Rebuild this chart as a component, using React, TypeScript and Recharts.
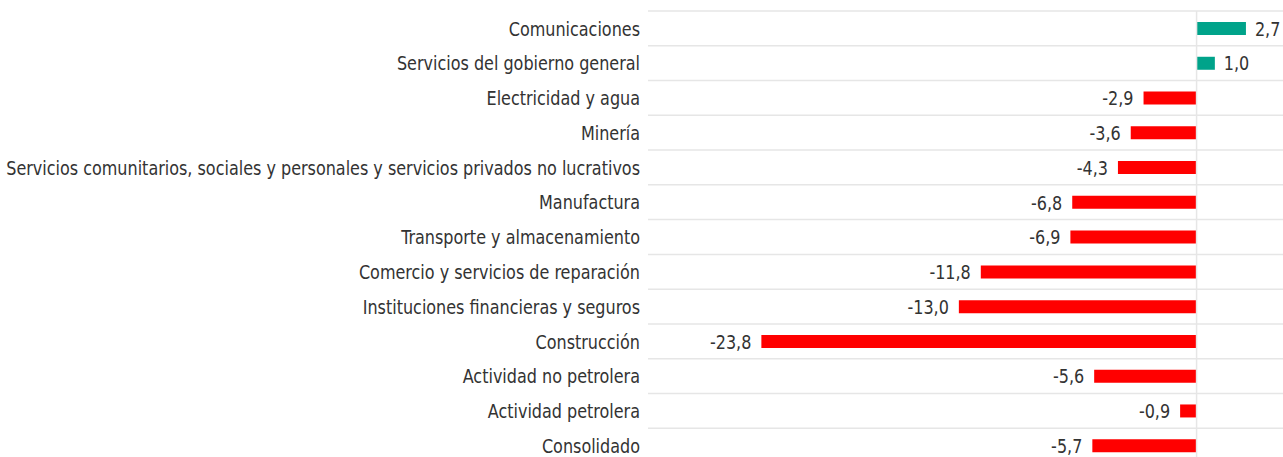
import React from "react";
import {
  BarChart,
  Bar,
  XAxis,
  YAxis,
  CartesianGrid,
  ReferenceLine,
  Cell,
  LabelList,
} from "recharts";

const categories = [
  "Comunicaciones",
  "Servicios del gobierno general",
  "Electricidad y agua",
  "Minería",
  "Servicios comunitarios, sociales y personales y servicios privados no lucrativos",
  "Manufactura",
  "Transporte y almacenamiento",
  "Comercio y servicios de reparación",
  "Instituciones financieras y seguros",
  "Construcción",
  "Actividad no petrolera",
  "Actividad petrolera",
  "Consolidado",
];

const values = [2.7, 1.0, -2.9, -3.6, -4.3, -6.8, -6.9, -11.8, -13.0, -23.8, -5.6, -0.9, -5.7];

const data = categories.map((name, i) => ({ name, value: values[i] }));

const FONT = "'DejaVu Sans Condensed', 'DejaVu Sans', sans-serif";
const FS = 20;
const SX = 0.89;
const POS = "#00a38a";
const NEG = "#ff0000";
const GRID = "#e6e6e6";
const TEXT = "#333333";

const fmt = (v: number) => v.toFixed(1).replace(".", ",");

const NarrowText = ({ x, y, anchor, children }: any) => (
  <text
    transform={`translate(${x},${y}) scale(${SX},1)`}
    x={0}
    y={0}
    dy="0.36em"
    textAnchor={anchor}
    fill={TEXT}
    fontSize={FS}
    fontFamily={FONT}
  >
    {children}
  </text>
);

const ValueLabel = (props: any) => {
  const { x, y, width, height, value } = props;
  const left = Math.min(x, x + width);
  const right = Math.max(x, x + width);
  const cy = y + height / 2;
  const neg = value < 0;
  return (
    <NarrowText x={neg ? left - 10 : right + 9} y={cy} anchor={neg ? "end" : "start"}>
      {fmt(value)}
    </NarrowText>
  );
};

const CategoryTick = (props: any) => {
  const { x, y, payload } = props;
  return (
    <g>
      <NarrowText x={x} y={y} anchor="end">
        {payload.value}
      </NarrowText>
    </g>
  );
};

const gridGen = ({ offset }: any) => {
  const n = categories.length;
  const arr: number[] = [];
  for (let i = 0; i <= n; i++) arr.push(offset.top + (i * offset.height) / n);
  return arr;
};

export default function App() {
  return (
    <div style={{ position: "absolute", left: 0, top: 0, background: "#fff" }}>
      <BarChart
        width={1290}
        height={470}
        data={data}
        layout="vertical"
        margin={{ top: 11, right: 2, bottom: 7, left: 0 }}
      >
        <CartesianGrid
          vertical={false}
          stroke={GRID}
          strokeWidth={1.5}
          horizontalCoordinatesGenerator={gridGen}
        />
        <XAxis type="number" domain={[-30, 5]} hide />
        <YAxis
          type="category"
          dataKey="name"
          width={648}
          axisLine={false}
          tickLine={false}
          interval={0}
          tick={<CategoryTick />}
          tickSize={0}
          tickMargin={8}
        />
        <ReferenceLine x={0} stroke={GRID} strokeWidth={1.5} />
        <Bar dataKey="value" barSize={13} isAnimationActive={false}>
          {data.map((d, i) => (
            <Cell key={i} fill={d.value >= 0 ? POS : NEG} />
          ))}
          <LabelList dataKey="value" content={ValueLabel} />
        </Bar>
      </BarChart>
    </div>
  );
}
